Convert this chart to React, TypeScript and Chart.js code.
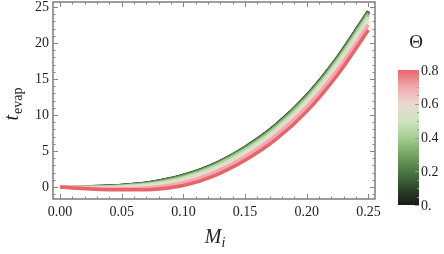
import { useEffect, useRef } from "react";
import { Chart, registerables } from "chart.js";

Chart.register(...registerables);

// Initial mass M_i (x)
const massValues = [0, 0.025, 0.05, 0.075, 0.1, 0.125, 0.15, 0.175, 0.2, 0.225, 0.25];

// Θ of each curve
const thetaValues = [0, 0.1, 0.2, 0.3, 0.4, 0.5, 0.6, 0.7, 0.8];

// t_evap for each Θ
const tEvapTheta00 = [0, 0.03, 0.2, 0.66, 1.6, 3.15, 5.5, 8.6, 12.7, 18.0, 24.4];
const tEvapTheta01 = [0, 0.03, 0.2, 0.655, 1.59, 3.14, 5.49, 8.59, 12.69, 17.99, 24.39];
const tEvapTheta02 = [0, 0.02, 0.18, 0.63, 1.56, 3.1, 5.45, 8.54, 12.63, 17.93, 24.32];
const tEvapTheta03 = [0, 0.0, 0.15, 0.57, 1.47, 3.01, 5.34, 8.42, 12.5, 17.78, 24.17];
const tEvapTheta04 = [0, -0.03, 0.09, 0.47, 1.33, 2.85, 5.16, 8.22, 12.28, 17.54, 23.91];
const tEvapTheta05 = [0, -0.07, 0.0, 0.33, 1.14, 2.62, 4.91, 7.94, 11.97, 17.21, 23.54];
const tEvapTheta06 = [0, -0.12, -0.1, 0.16, 0.9, 2.35, 4.6, 7.6, 11.6, 16.8, 23.1];
const tEvapTheta07 = [0, -0.19, -0.23, -0.06, 0.59, 2.0, 4.2, 7.16, 11.12, 16.27, 22.53];
const tEvapTheta08 = [0, -0.27, -0.4, -0.34, 0.2, 1.55, 3.7, 6.6, 10.5, 15.6, 21.8];

const tEvapSeries = [
  tEvapTheta00, tEvapTheta01, tEvapTheta02, tEvapTheta03, tEvapTheta04,
  tEvapTheta05, tEvapTheta06, tEvapTheta07, tEvapTheta08,
];

// tick labels
const xTickValues = [0, 0.05, 0.1, 0.15, 0.2, 0.25];
const yTickValues = [0, 5, 10, 15, 20, 25];
const colorbarTickValues = [0, 0.2, 0.4, 0.6, 0.8];
const colorbarTickLabels = ["0.", "0.2", "0.4", "0.6", "0.8"];

// colour map (Θ -> colour)
const colorStops: [number, string][] = [
  [0.0, "#1a1a1a"],
  [0.1, "#2f472b"],
  [0.2, "#4b7a43"],
  [0.3, "#74a564"],
  [0.4, "#a5cf95"],
  [0.5, "#cfe3c0"],
  [0.6, "#ead9d2"],
  [0.7, "#f2a9ac"],
  [0.8, "#e8646a"],
];

function hexToRgb(h: string) {
  const n = parseInt(h.slice(1), 16);
  return [(n >> 16) & 255, (n >> 8) & 255, n & 255];
}
function colorAt(t: number) {
  for (let i = 0; i < colorStops.length - 1; i++) {
    const [a, ca] = colorStops[i];
    const [b, cb] = colorStops[i + 1];
    if (t >= a && t <= b) {
      const f = (t - a) / (b - a);
      const A = hexToRgb(ca), B = hexToRgb(cb);
      const c = A.map((v, k) => Math.round(v + (B[k] - v) * f));
      return `rgb(${c[0]},${c[1]},${c[2]})`;
    }
  }
  return colorStops[colorStops.length - 1][1];
}

const SERIF = '"Liberation Serif", "Times New Roman", Times, serif';
const TEXT = "#1e1e1e";
const FRAME = "#858585";

const framePlugin = {
  id: "frameDecor",
  afterDraw(chart: any) {
    const { ctx, chartArea: a, scales } = chart;
    const xs = scales.x, ys = scales.y;
    ctx.save();
    const line = (x1: number, y1: number, x2: number, y2: number) => {
      ctx.beginPath();
      ctx.moveTo(x1, y1);
      ctx.lineTo(x2, y2);
      ctx.stroke();
    };
    ctx.strokeStyle = FRAME;
    ctx.lineWidth = 1;
    for (let i = 0; i <= 25; i++) {
      const px = Math.round(xs.getPixelForValue(i * 0.01)) + 0.5;
      const len = i % 5 === 0 ? 5 : 2.5;
      line(px, a.bottom, px, a.bottom - len);
      line(px, a.top, px, a.top + len);
    }
    for (let i = -1; i <= 25; i++) {
      const py = Math.round(ys.getPixelForValue(i)) + 0.5;
      const len = i % 5 === 0 ? 5 : 2.5;
      line(a.left, py, a.left + len, py);
      line(a.right, py, a.right - len, py);
    }
    ctx.lineWidth = 1.6;
    ctx.strokeRect(a.left, a.top, a.right - a.left, a.bottom - a.top);

    // axis titles
    ctx.fillStyle = TEXT;
    ctx.textBaseline = "alphabetic";
    // M_i
    ctx.font = `italic 20px ${SERIF}`;
    ctx.textAlign = "left";
    const mW = ctx.measureText("M").width;
    ctx.font = `italic 14px ${SERIF}`;
    const iW = ctx.measureText("i").width;
    const mx = 215 - (mW + iW) / 2;
    ctx.font = `italic 20px ${SERIF}`;
    ctx.fillText("M", mx, 243);
    ctx.font = `italic 14px ${SERIF}`;
    ctx.fillText("i", mx + mW, 247);

    // t_evap rotated
    ctx.save();
    ctx.translate(18, 104);
    ctx.rotate(-Math.PI / 2);
    ctx.font = `italic 20px ${SERIF}`;
    const tW = ctx.measureText("t").width;
    ctx.font = `14px ${SERIF}`;
    const eW = ctx.measureText("evap").width;
    const sx = -(tW + eW + 1) / 2;
    ctx.font = `italic 20px ${SERIF}`;
    ctx.fillText("t", sx, 0);
    ctx.font = `14px ${SERIF}`;
    ctx.fillText("evap", sx + tW + 1, 4);
    ctx.restore();

    // colour bar
    const cbLeft = 398, cbRight = 419, cbBottom = 205, cbTop = 70;
    const thetaToY = (t: number) => cbBottom + (cbTop - cbBottom) * (t / 0.8);
    const grad = ctx.createLinearGradient(0, cbBottom, 0, cbTop);
    colorStops.forEach(([t, c]) => grad.addColorStop(t / 0.8, c));
    ctx.fillStyle = grad;
    ctx.fillRect(cbLeft, cbTop, cbRight - cbLeft, cbBottom - cbTop);
    ctx.strokeStyle = "#9a9a9a";
    ctx.lineWidth = 1;
    for (let i = 0; i <= 16; i++) {
      const py = Math.round(thetaToY(i * 0.05)) + 0.5;
      const len = i % 4 === 0 ? 4 : 2;
      line(cbRight, py, cbRight - len, py);
    }
    ctx.fillStyle = TEXT;
    ctx.font = `14px ${SERIF}`;
    ctx.textAlign = "left";
    ctx.textBaseline = "middle";
    colorbarTickValues.forEach((t, k) => {
      ctx.fillText(colorbarTickLabels[k], cbRight + 2, thetaToY(t) + 1);
    });
    ctx.font = `19px ${SERIF}`;
    ctx.textAlign = "center";
    ctx.textBaseline = "alphabetic";
    ctx.fillText("Θ", 416, 48);
    ctx.restore();
  },
};

export default function App() {
  const canvasRef = useRef<HTMLCanvasElement | null>(null);

  useEffect(() => {
    document.body.style.margin = "0";
    const canvas = canvasRef.current;
    if (!canvas) return;
    let chart: Chart | null = null;
    let cancelled = false;

    const build = () => {
      if (cancelled) return;
      const datasets = tEvapSeries.map((series, k) => ({
        label: `Θ = ${thetaValues[k]}`,
        data: massValues.map((m, i) => ({ x: m, y: series[i] })),
        borderColor: colorAt(thetaValues[k]),
        backgroundColor: colorAt(thetaValues[k]),
        borderWidth: 3.5,
        pointRadius: 0,
        cubicInterpolationMode: "monotone" as const,
        fill: false,
        order: thetaValues.length - k,
      }));

      chart = new Chart(canvas, {
        type: "line",
        data: { datasets },
        options: {
          responsive: false,
          animation: false,
          layout: { padding: { top: 2, right: 69, left: 0, bottom: 0 } },
          plugins: { legend: { display: false }, tooltip: { enabled: false } },
          scales: {
            x: {
              type: "linear",
              min: -0.0057,
              max: 0.2553,
              grid: { display: false, drawTicks: false },
              border: { display: false },
              afterBuildTicks: (s: any) => {
                s.ticks = xTickValues.map((v) => ({ value: v }));
              },
              afterFit: (s: any) => {
                s.height = 55;
                s.paddingLeft = 0;
                s.paddingRight = 0;
              },
              ticks: {
                includeBounds: false,
                padding: 5,
                color: TEXT,
                font: { family: SERIF, size: 14 },
                maxRotation: 0,
                callback: (v: any) => Number(v).toFixed(2),
              },
            },
            y: {
              type: "linear",
              min: -1.67,
              max: 25.7,
              grid: { display: false, drawTicks: false },
              border: { display: false },
              afterBuildTicks: (s: any) => {
                s.ticks = yTickValues.map((v) => ({ value: v }));
              },
              afterFit: (s: any) => {
                s.width = 53;
                s.paddingTop = 0;
                s.paddingBottom = 0;
              },
              ticks: {
                includeBounds: false,
                padding: 4,
                color: TEXT,
                font: { family: SERIF, size: 14 },
                callback: (v: any) => String(v),
              },
            },
          },
        },
        plugins: [framePlugin],
      });
    };

    const fonts: any = (document as any).fonts;
    if (fonts && fonts.load) {
      Promise.all([
        fonts.load('14px "Liberation Serif"'),
        fonts.load('italic 20px "Liberation Serif"'),
      ])
        .catch(() => undefined)
        .then(build);
    } else {
      build();
    }

    return () => {
      cancelled = true;
      if (chart) chart.destroy();
    };
  }, []);

  return (
    <div style={{ position: "fixed", left: 0, top: 0, width: 444, height: 254, background: "#fff" }}>
      <canvas ref={canvasRef} width={444} height={254} style={{ width: 444, height: 254, display: "block" }} />
    </div>
  );
}
